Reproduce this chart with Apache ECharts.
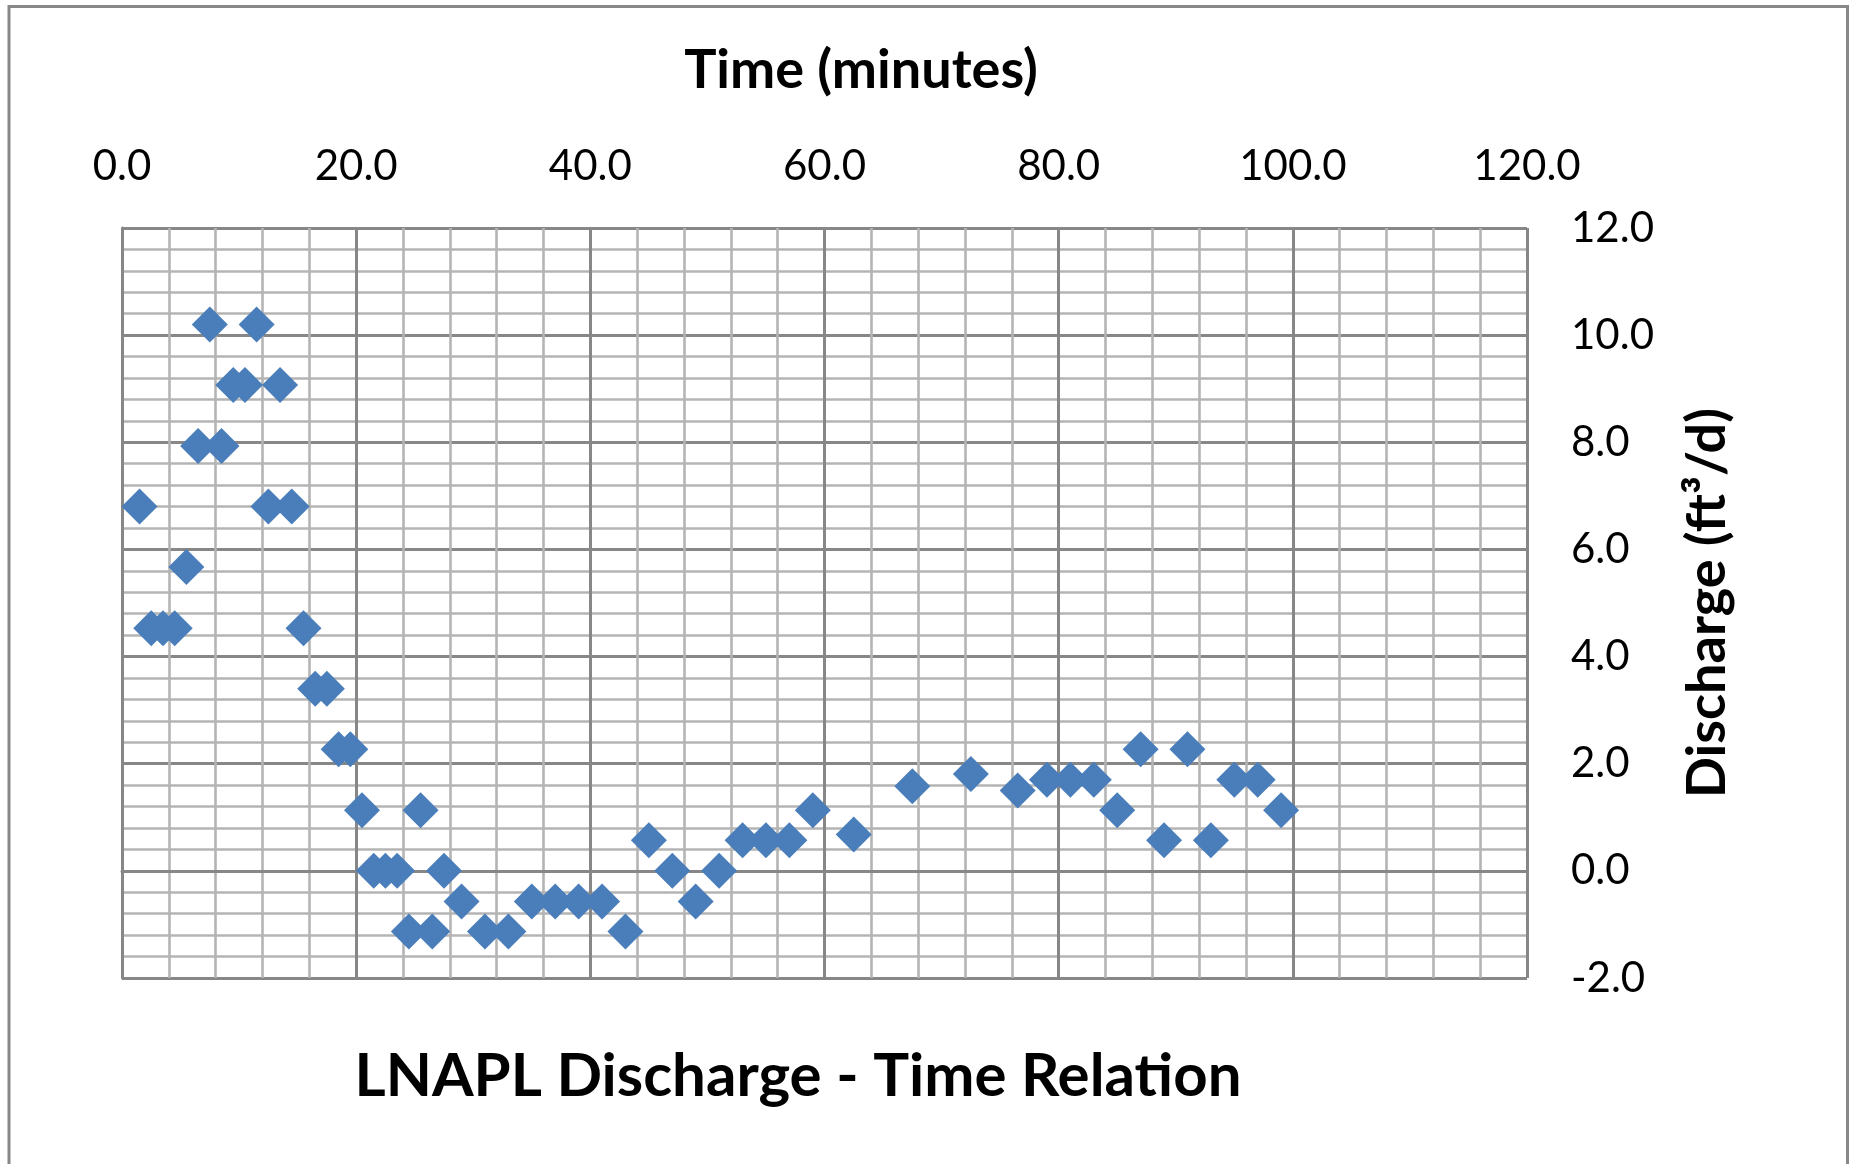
<!DOCTYPE html>
<html>
<head>
<meta charset="utf-8">
<script src="https://cdn.jsdelivr.net/npm/echarts@6/dist/echarts.min.js"></script>
<style>html,body{margin:0;padding:0;background:#fff;}#c{width:1855px;height:1164px;}</style>
</head>
<body>
<div id="c"></div>
<script>
const timeMinutes = [1.5, 2.5, 3.5, 4.5, 5.5, 6.5, 7.5, 8.5, 9.5, 10.5, 11.5, 12.5, 13.5, 14.5, 15.5, 16.5, 17.5, 18.5, 19.5, 20.5,
  21.5, 22.5, 23.5, 24.5, 25.5, 26.5, 27.5, 29, 31, 33, 35, 37, 39, 41, 43, 45, 47, 49, 51, 53, 55, 57, 59, 62.5, 67.5, 72.5,
  76.5, 79, 81, 83, 85, 87, 89, 91, 93, 95, 97, 99];
const discharge = [6.8, 4.53, 4.53, 4.53, 5.67, 7.93, 10.2, 7.93, 9.07, 9.07, 10.2, 6.8, 9.07, 6.8, 4.53, 3.4, 3.4, 2.27, 2.27, 1.13,
  0, 0, 0, -1.13, 1.13, -1.13, 0, -0.57, -1.13, -1.13, -0.57, -0.57, -0.57, -0.57, -1.13, 0.57, 0, -0.57, 0, 0.57, 0.57, 0.57, 1.13, 0.68, 1.58, 1.81,
  1.5, 1.7, 1.7, 1.7, 1.13, 2.27, 0.57, 2.27, 0.57, 1.7, 1.7, 1.13];
const xTickLabels = ['0.0', '20.0', '40.0', '60.0', '80.0', '100.0', '120.0'];
const yTickLabels = ['-2.0', '0.0', '2.0', '4.0', '6.0', '8.0', '10.0', '12.0'];
const chartTitle = 'LNAPL Discharge - Time Relation';
const xName = 'Time (minutes)';
const yName = 'Discharge (ft\u00B3/d)';

const points = timeMinutes.map((t, i) => [t, discharge[i]]);
const FONT = 'Lato, "Open Sans", sans-serif';
const MAJOR = '#878787', MINOR = '#b4b4b4';
const chart = echarts.init(document.getElementById('c'), null, {renderer: 'canvas'});
chart.setOption({
  animation: false,
  backgroundColor: '#fff',
  grid: {left: 122, top: 228, right: 328, bottom: 186, containLabel: false},
  xAxis: {
    type: 'value', position: 'top', min: 0, max: 120, interval: 20,
    axisLine: {show: true, lineStyle: {color: MAJOR, width: 3}},
    axisTick: {show: true, inside: false, length: 15, lineStyle: {color: MAJOR, width: 3}},
    axisLabel: {margin: 41, color: '#000', fontFamily: FONT, fontSize: 42,
      formatter: v => xTickLabels[Math.round(v / 20)]},
    splitLine: {show: true, lineStyle: {color: MAJOR, width: 3}},
    minorTick: {show: true, splitNumber: 5, length: 0},
    minorSplitLine: {show: true, lineStyle: {color: MINOR, width: 2.6}}
  },
  yAxis: {
    type: 'value', position: 'right', min: -2, max: 12, interval: 2,
    axisLine: {show: true, lineStyle: {color: MAJOR, width: 3}},
    axisTick: {show: true, inside: false, length: 15, lineStyle: {color: MAJOR, width: 3}},
    axisLabel: {margin: 44, color: '#000', fontFamily: FONT, fontSize: 42,
      formatter: v => yTickLabels[Math.round((v + 2) / 2)]},
    splitLine: {show: true, lineStyle: {color: MAJOR, width: 3}},
    minorTick: {show: true, splitNumber: 5, length: 0},
    minorSplitLine: {show: true, lineStyle: {color: MINOR, width: 2.6}}
  },
  series: [{
    type: 'scatter', data: points, symbol: 'diamond', symbolSize: 36,
    itemStyle: {color: '#4a7ebb', opacity: 1}
  }],
  graphic: [
    {type: 'rect', shape: {x: 9, y: 6.5, width: 1838.5, height: 1170}, silent: true, z: -10,
      style: {fill: 'none', stroke: '#888', lineWidth: 3}},
    {type: 'text', x: 861, y: 71, style: {text: xName, fill: '#000', font: 'bold 54px ' + FONT, textAlign: 'center', textVerticalAlign: 'middle'}},
    {type: 'text', x: 1708, y: 603, rotation: Math.PI / 2, style: {text: yName, fill: '#000', font: 'bold 54px ' + FONT, textAlign: 'center', textVerticalAlign: 'middle'}},
    {type: 'text', x: 798, y: 1077, style: {text: chartTitle, fill: '#000', font: 'bold 60px ' + FONT, textAlign: 'center', textVerticalAlign: 'middle'}}
  ]
});
</script>
</body>
</html>
